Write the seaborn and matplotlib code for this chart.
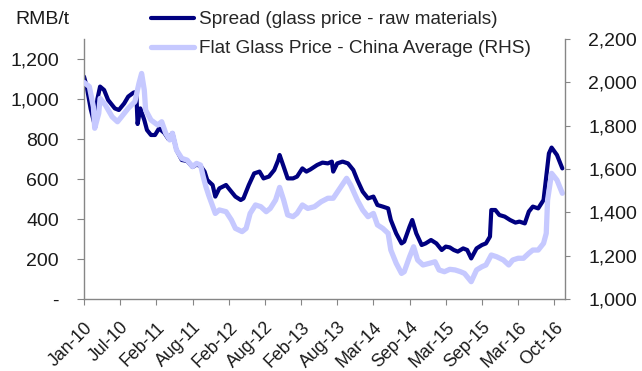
import matplotlib
matplotlib.use("Agg")
import matplotlib.pyplot as plt
import seaborn as sns
import pandas as pd
from matplotlib.ticker import FixedLocator, FuncFormatter

sns.set_theme(style="white")
plt.rcParams["font.family"] = ["Liberation Sans", "DejaVu Sans"]

# Weekly series: week number counted from the first week of Jan 2010
spread_week = [0, 2, 5, 8, 10, 12, 15, 18, 23, 26, 30, 33, 37, 39, 40, 42, 45, 47, 50, 53,
               56, 60, 63, 66, 69, 73, 77, 81, 84, 87, 90, 92, 96, 98, 101, 106, 108, 113,
               117, 119, 123, 127, 131, 134, 138, 142, 145, 146, 149, 152, 156, 159, 163,
               166, 169, 174, 178, 182, 185, 186, 189, 193, 197, 201, 204, 208, 212, 216,
               219, 223, 227, 229, 233, 237, 239, 243, 245, 248, 252, 255, 259, 263, 267,
               270, 273, 276, 279, 283, 286, 289, 293, 297, 300, 303, 304, 307, 310, 314,
               318, 322, 325, 329, 332, 335, 339, 343, 347, 349, 353, 357]
spread_rmb = [1112, 1062, 950, 870, 1000, 1062, 1045, 995, 953, 945, 978, 1012, 1032, 1035,
              875, 953, 895, 845, 820, 820, 853, 830, 800, 830, 745, 695, 690, 660, 672, 665,
              637, 595, 570, 512, 553, 570, 553, 512, 495, 503, 570, 628, 637, 603, 612, 645,
              695, 720, 662, 603, 603, 612, 653, 637, 648, 670, 682, 678, 687, 637, 678, 687,
              678, 645, 595, 537, 503, 512, 470, 462, 453, 395, 328, 278, 287, 362, 395, 328,
              270, 278, 295, 278, 245, 262, 258, 245, 237, 253, 245, 203, 253, 270, 278, 312,
              445, 445, 420, 412, 395, 382, 387, 378, 437, 462, 453, 495, 728, 757, 720, 653]

price_week = [0, 4, 7, 8, 11, 12, 16, 21, 25, 28, 33, 38, 41, 43, 45, 46, 50, 55, 58, 61,
              64, 66, 69, 73, 77, 81, 84, 87, 89, 91, 93, 98, 101, 106, 110, 113, 118, 121,
              124, 128, 132, 136, 139, 143, 146, 149, 152, 156, 159, 163, 167, 172, 177,
              182, 186, 191, 196, 199, 204, 208, 212, 216, 219, 223, 227, 229, 233, 237,
              239, 243, 246, 249, 253, 258, 262, 265, 269, 273, 277, 281, 284, 289, 293,
              297, 300, 304, 308, 313, 317, 320, 324, 328, 332, 335, 339, 343, 345, 346,
              349, 353, 357]
price_rmb = [2000, 1980, 1887, 1788, 1857, 1926, 1895, 1841, 1818, 1841, 1880, 1911, 1995,
             2041, 1964, 1872, 1826, 1803, 1818, 1765, 1734, 1765, 1688, 1649, 1641, 1611,
             1626, 1618, 1564, 1518, 1480, 1395, 1411, 1403, 1365, 1326, 1311, 1326, 1395,
             1434, 1426, 1403, 1418, 1457, 1515, 1457, 1388, 1380, 1395, 1434, 1418, 1426,
             1449, 1465, 1465, 1511, 1557, 1526, 1457, 1411, 1380, 1395, 1342, 1326, 1303,
             1226, 1165, 1118, 1126, 1195, 1241, 1180, 1157, 1165, 1172, 1134, 1126, 1137,
             1134, 1126, 1118, 1080, 1134, 1149, 1157, 1203, 1195, 1180, 1157, 1180, 1188,
             1188, 1211, 1226, 1226, 1257, 1303, 1457, 1580, 1549, 1488]

tick_weeks = [0, 27, 54, 81, 108, 135, 162, 189, 216, 243, 270, 297, 324, 351]
tick_labels = ["Jan-10", "Jul-10", "Feb-11", "Aug-11", "Feb-12", "Aug-12", "Feb-13",
               "Aug-13", "Mar-14", "Sep-14", "Mar-15", "Sep-15", "Mar-16", "Oct-16"]

spread_label = "Spread (glass price - raw materials)"
price_label = "Flat Glass Price - China Average (RHS)"

spread_df = pd.DataFrame({"week": spread_week, "rmb": spread_rmb})
price_df = pd.DataFrame({"week": price_week, "rmb": price_rmb})

DARK = "#000080"
LIGHT = "#c6c9ff"
GREY = "#868686"
TXT = "#1a1a1a"
FS_Y = 14
FS_X = 12.8
FS_LEG = 13.7

fig = plt.figure(figsize=(6.42, 3.71), dpi=100)
ax = fig.add_axes([84 / 642, 72 / 371, (565 - 84) / 642, (299 - 39) / 371])
ax2 = ax.twinx()

sns.lineplot(data=spread_df, x="week", y="rmb", ax=ax, color=DARK, linewidth=3.0,
             solid_joinstyle="round", solid_capstyle="round", label=spread_label, legend=False)
sns.lineplot(data=price_df, x="week", y="rmb", ax=ax2, color=LIGHT, linewidth=3.8,
             solid_joinstyle="round", solid_capstyle="round", label=price_label, legend=False)

ax.set_xlim(0, 359)
ax.set_ylim(0, 1300)
ax2.set_ylim(1000, 2200)
for a in (ax, ax2):
    a.set_xlabel("")
    a.set_ylabel("")
    a.grid(False)
    a.set_facecolor("none")

ax.xaxis.set_major_locator(FixedLocator(tick_weeks))
ax.set_xticklabels(tick_labels, rotation=45, ha="right", rotation_mode="anchor")
ax.yaxis.set_major_locator(FixedLocator(range(0, 1201, 200)))
ax.yaxis.set_major_formatter(FuncFormatter(lambda v, p: "-" if v == 0 else f"{v:,.0f}"))
ax2.yaxis.set_major_locator(FixedLocator(range(1000, 2201, 200)))
ax2.yaxis.set_major_formatter(FuncFormatter(lambda v, p: f"{v:,.0f}"))

ax.tick_params(axis="x", direction="out", length=4.3, width=0.8, color=GREY,
               labelsize=FS_X, pad=10, labelcolor=TXT, bottom=True)
ax.tick_params(axis="y", direction="out", length=5, width=0.8, color=GREY,
               labelsize=FS_Y, pad=13, labelcolor=TXT, left=True)
ax2.tick_params(axis="y", direction="out", length=3.6, width=0.8, color=GREY,
                labelsize=FS_Y, pad=13, labelcolor=TXT, right=True)

for a in (ax, ax2):
    a.spines["top"].set_visible(False)
    for s in ("left", "right", "bottom"):
        a.spines[s].set_color(GREY)
        a.spines[s].set_linewidth(1.0)
ax.spines["right"].set_visible(False)
ax2.spines["left"].set_visible(False)
ax2.spines["bottom"].set_visible(False)

handles = ax.get_lines()[:1] + ax2.get_lines()[:1]
fig.legend(handles, [spread_label, price_label], loc="upper left",
           bbox_to_anchor=(151 / 642, 1 - 11 / 371), frameon=False, fontsize=FS_LEG,
           handlelength=2.25, handletextpad=0.25, labelspacing=0.62,
           borderpad=0, borderaxespad=0)

fig.text(15 / 642, 1 - 19 / 371, "RMB/t", ha="left", va="center", fontsize=FS_Y, color=TXT)

fig.savefig("out.png", dpi=100)
